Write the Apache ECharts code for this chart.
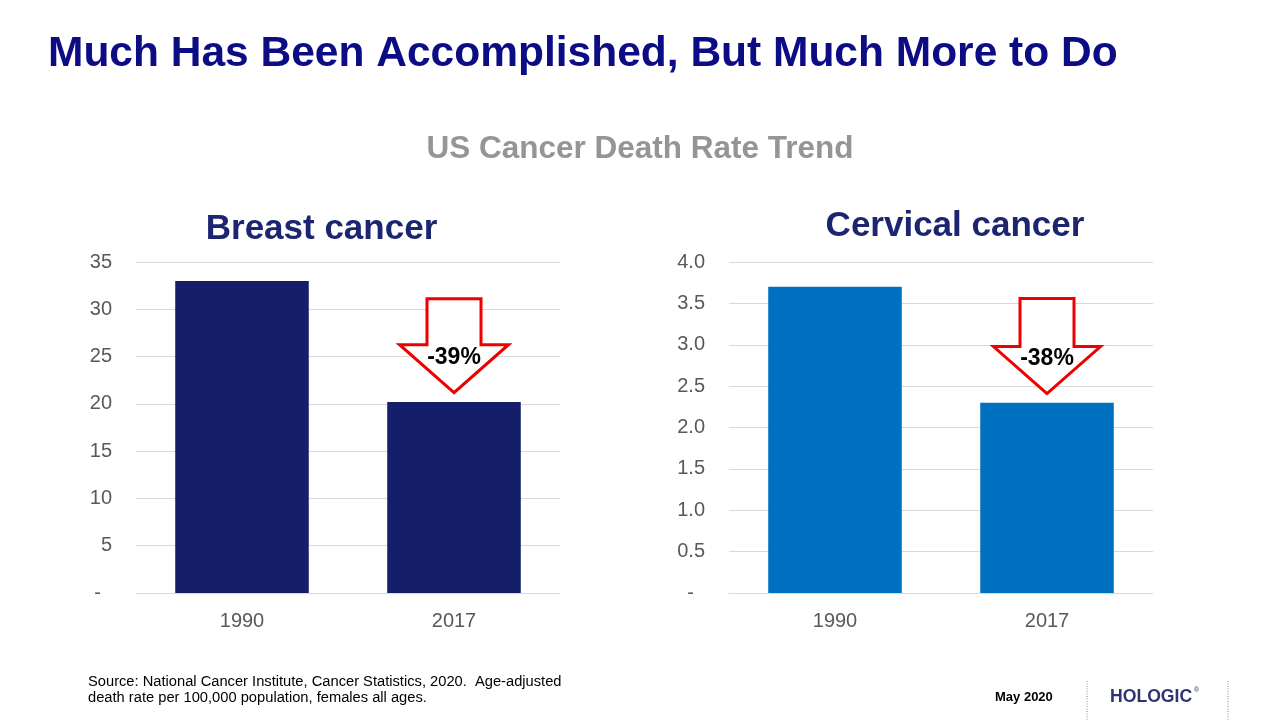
<!DOCTYPE html>
<html>
<head>
<meta charset="utf-8">
<script src="https://cdn.jsdelivr.net/npm/echarts@6/dist/echarts.min.js"></script>
<style>
html,body{margin:0;padding:0;background:#fff;}
#chart{width:1280px;height:720px;}
</style>
</head>
<body>
<div id="chart"></div>
<script>
const categories = ['1990', '2017'];
const breastValues = [33.0, 20.2];
const cervicalValues = [3.7, 2.3];
const breastChange = '-39%';
const cervicalChange = '-38%';
const breastTicks = {min: 0, max: 35, interval: 5};
const cervicalTicks = {min: 0, max: 4, interval: 0.5};

const FONT = '"Liberation Sans", Arial, sans-serif';
const chart = echarts.init(document.getElementById('chart'));

function yAxis(idx, t, dec) {
  return {
    type: 'value', gridIndex: idx, min: t.min, max: t.max, interval: t.interval,
    axisLine: {show: false}, axisTick: {show: false},
    splitLine: {lineStyle: {color: '#d9d9d9', width: 1}},
    axisLabel: {
      color: '#595959', fontSize: 20, fontFamily: FONT, margin: 24,
      formatter: v => v === 0 ? '-  ' : v.toFixed(dec)
    }
  };
}
function xAxis(idx) {
  return {
    type: 'category', gridIndex: idx, data: categories,
    axisLine: {show: true, lineStyle: {color: '#d9d9d9'}}, axisTick: {show: false},
    axisLabel: {color: '#595959', fontSize: 20, fontFamily: FONT, margin: 18}
  };
}

const option = {
  backgroundColor: '#ffffff',
  animation: false,
  grid: [
    {left: 136, top: 262, width: 424, height: 331},
    {left: 729, top: 262, width: 424, height: 331}
  ],
  xAxis: [xAxis(0), xAxis(1)],
  yAxis: [yAxis(0, breastTicks, 0), yAxis(1, cervicalTicks, 1)],
  series: [
    {type: 'bar', xAxisIndex: 0, yAxisIndex: 0, data: breastValues,
     barCategoryGap: '37%', itemStyle: {color: '#151f69'}},
    {type: 'bar', xAxisIndex: 1, yAxisIndex: 1, data: cervicalValues,
     barCategoryGap: '37%', itemStyle: {color: '#0070c0'}}
  ]
};
chart.setOption(option);

function txt(text, x, y, size, color, bold, align, extra) {
  return Object.assign({
    type: 'text', x: x, y: y, z: 20,
    style: {text: text, fill: color, font: (bold ? 'bold ' : '') + size + 'px ' + FONT,
      textAlign: align || 'left', textVerticalAlign: 'middle'}
  }, extra || {});
}

function arrow(gridIdx, cat, value, label, half, wing, headH, totalH, textUp) {
  const tip = chart.convertToPixel({xAxisIndex: gridIdx, yAxisIndex: gridIdx}, [cat, value]);
  const x = tip[0], y = tip[1];
  const pts = [
    [x, y], [x - wing, y - headH], [x - half, y - headH], [x - half, y - totalH],
    [x + half, y - totalH], [x + half, y - headH], [x + wing, y - headH]
  ];
  return [
    {type: 'polygon', shape: {points: pts}, z: 10,
     style: {fill: '#ffffff', stroke: '#ee0000', lineWidth: 3, lineJoin: 'miter'}},
    txt(label, x, y - textUp, 23, '#000000', true, 'center')
  ];
}

const graphics = []
  .concat([
    txt('Much Has Been Accomplished, But Much More to Do', 48, 54.5, 42.5, '#0c0c84', true, 'left'),
    txt('US Cancer Death Rate Trend', 640, 149, 31.5, '#959595', true, 'center'),
    txt('Breast cancer', 321.5, 229.5, 35, '#1b2570', true, 'center'),
    txt('Cervical cancer', 955, 226.5, 35, '#1b2570', true, 'center')
  ])
  .concat(arrow(0, '2017', breastValues[1] + 0.98, breastChange, 27, 54.5, 48, 94, 35))
  .concat(arrow(1, '2017', cervicalValues[1] + 0.11, cervicalChange, 27, 53.5, 47, 95, 35))
  .concat([
    txt('Source: National Cancer Institute, Cancer Statistics, 2020.  Age-adjusted', 88, 682, 14.7, '#000000', false),
    txt('death rate per 100,000 population, females all ages.', 88, 698, 14.7, '#000000', false),
    txt('May 2020', 995, 697.5, 13, '#000000', true),
    {type: 'line', shape: {x1: 1087, y1: 681, x2: 1087, y2: 720},
     style: {stroke: '#888', lineWidth: 1, lineDash: [1, 1.5]}},
    {type: 'line', shape: {x1: 1228, y1: 681, x2: 1228, y2: 720},
     style: {stroke: '#888', lineWidth: 1, lineDash: [1, 1.5]}},
    txt('HOLOGIC', 1110, 697.5, 17.6, '#2f3372', true),
    txt('®', 1194, 690, 7, '#2f3372', false)
  ]);
chart.setOption({graphic: graphics});
</script>
</body>
</html>
